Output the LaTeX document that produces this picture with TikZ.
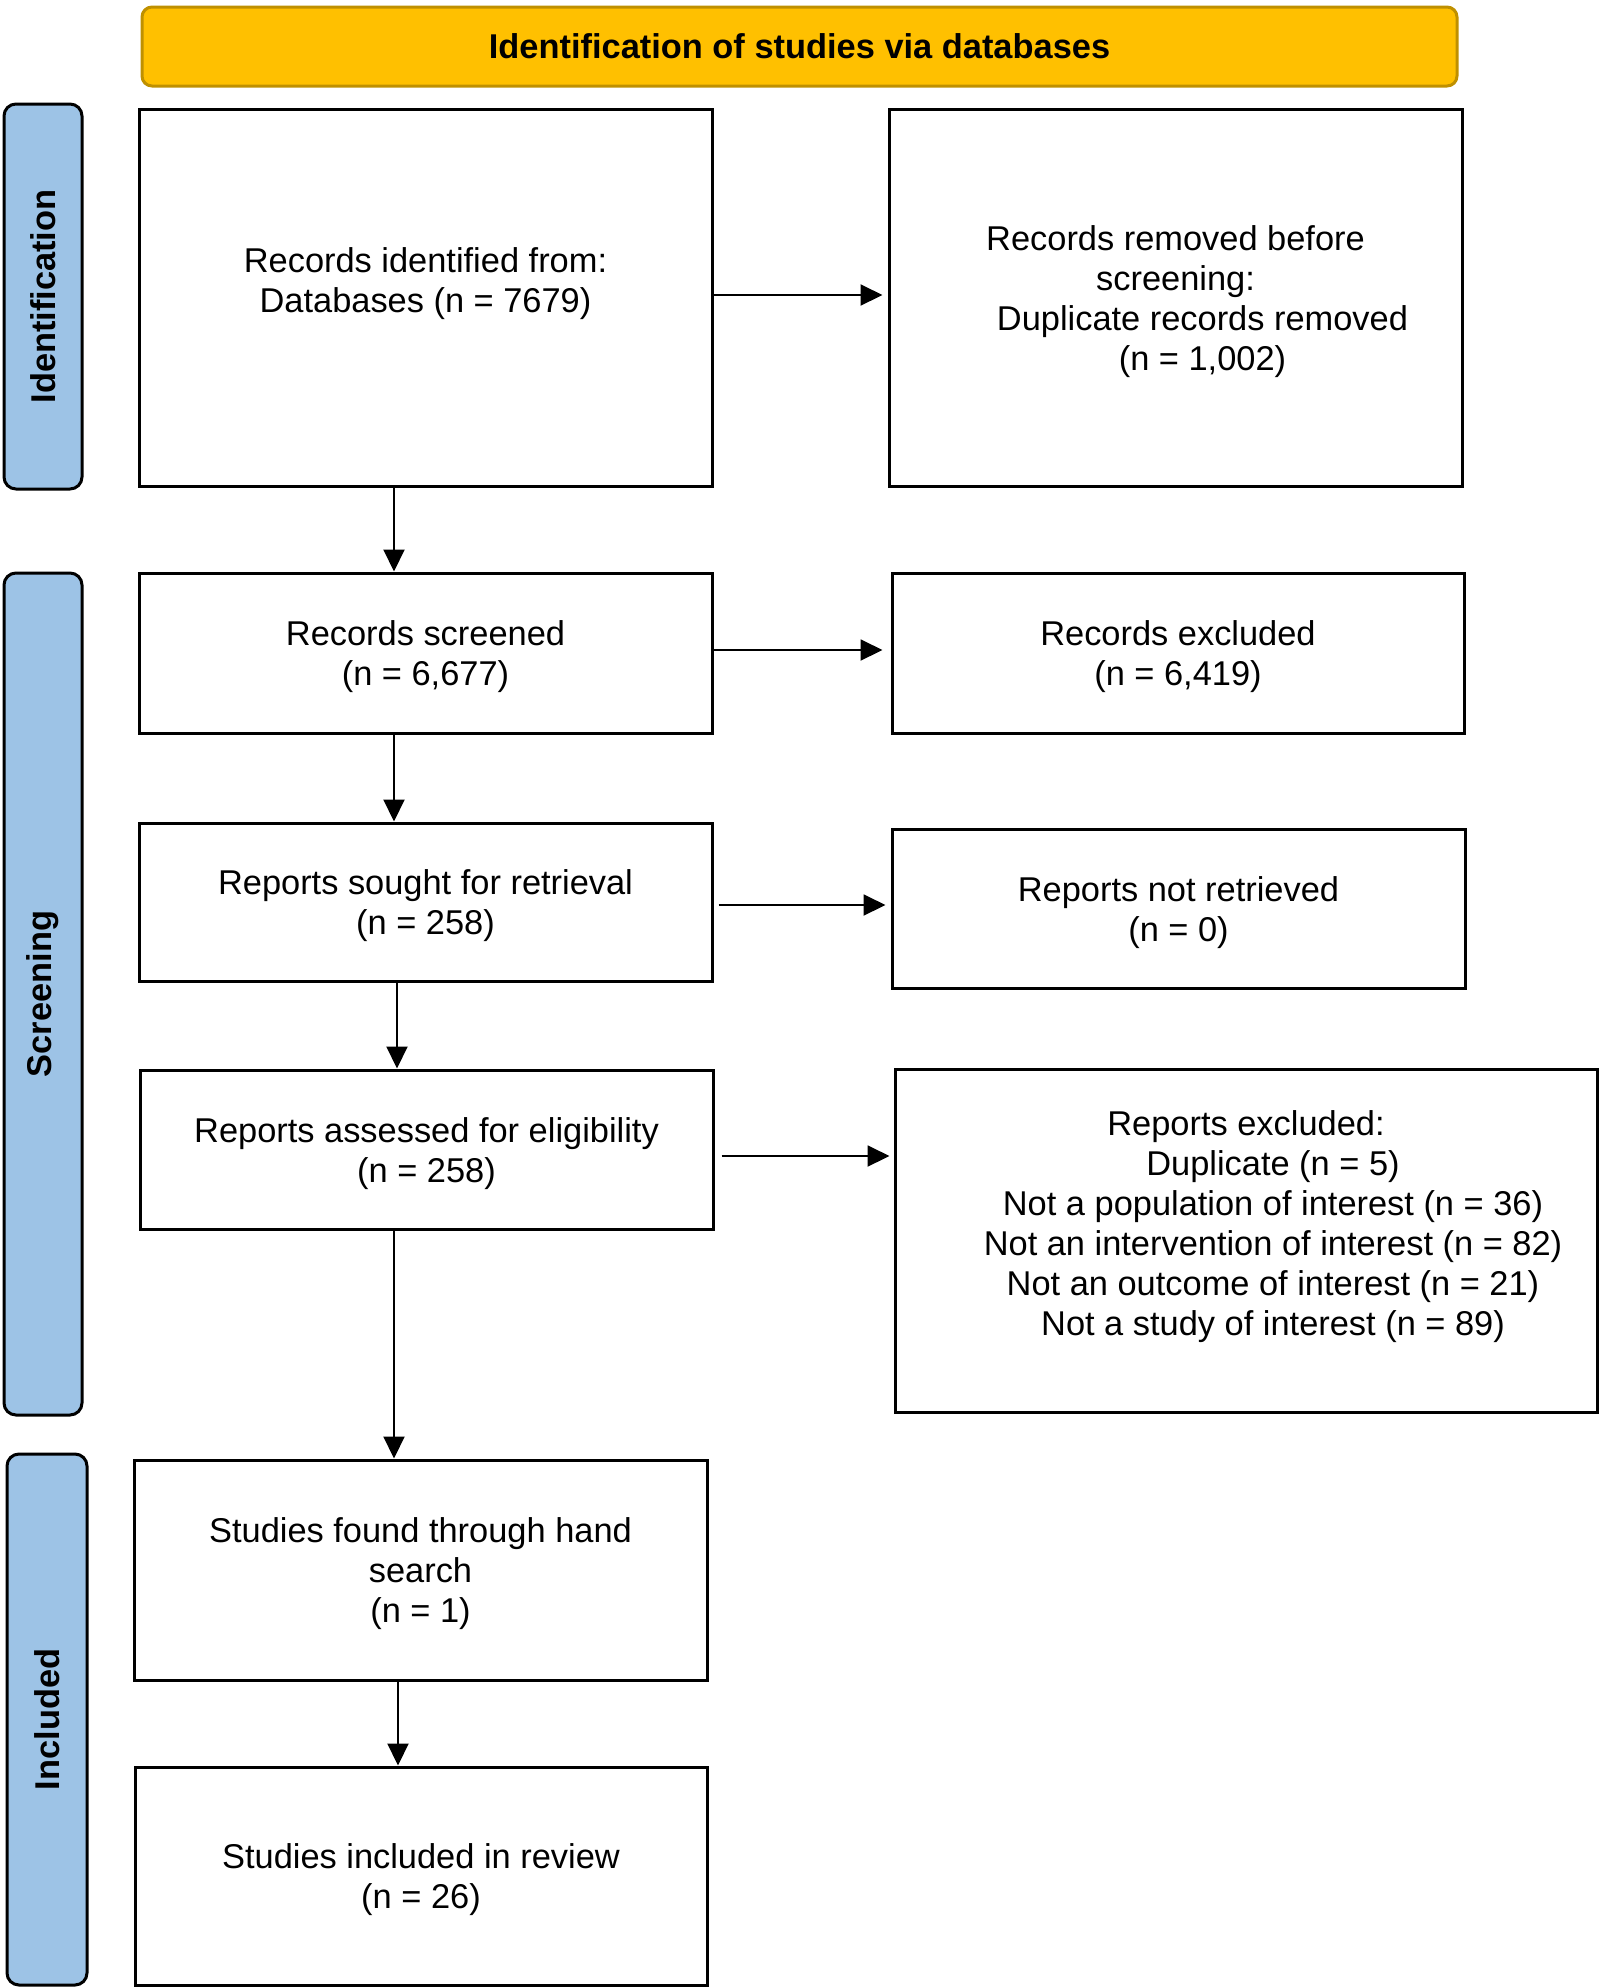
\documentclass[tikz,border=0pt]{standalone}
\usepackage{fontspec}
\setmainfont{Liberation Sans}
\usetikzlibrary{arrows.meta,calc}
\definecolor{gold}{HTML}{FFC000}
\definecolor{golddark}{HTML}{BF9000}
\definecolor{barblue}{HTML}{9DC3E6}
\newcommand\myTopRule{\rule{0pt}{16.5pt}}
\newcommand\mySmallRule{\rule{0pt}{14.5pt}}
\begin{document}
\begin{tikzpicture}[x=0.5pt,y=-0.5pt,
  txt/.style={font=\fontsize{17.2}{20}\selectfont},
  box/.style={draw, line width=1.5pt, align=center, inner sep=0pt, txt},
  banner/.style={draw=golddark, fill=gold, line width=1.5pt, rounded corners=5pt, inner sep=0pt, font=\fontsize{17.2}{20}\selectfont\bfseries},
  side/.style={draw, fill=barblue, line width=1.5pt, rounded corners=6pt, inner sep=0pt, rotate=90, font=\fontsize{17.2}{20}\selectfont\bfseries},
  arr/.style={-{Triangle[length=11pt,width=10.5pt]}, line width=1pt}]
\useasboundingbox (0,0) rectangle (1600,1988);

% banner
\node[banner, minimum width=657.5pt, minimum height=39.5pt] (T) at (799.5,46.5) {Identification of studies via databases};

% side bars
\node[side, minimum width=192.5pt, minimum height=39pt] (S1) at (43,296.5) {Identification};
\node[side, minimum width=421pt, minimum height=39pt] (S2) at (43,994) {Screening};
\node[side, minimum width=265.5pt, minimum height=40pt] (S3) at (47,1719.5) {Included};

% boxes
\node[box, minimum width=286.5pt, minimum height=188.5pt] (A) at (425.5,297.5) {\mySmallRule Records identified from:\\Databases (n = 7679)\\\mbox{}};
\node[box, minimum width=286.5pt, minimum height=188.5pt] (B) at (1175.5,297.5) {\myTopRule Records removed before\\screening:\\\hspace*{27pt}Duplicate records removed\\\hspace*{27pt}(n = 1,002)};
\node[box, minimum width=286.5pt, minimum height=80pt] (C) at (425.5,653) {\myTopRule Records screened\\(n = 6,677)};
\node[box, minimum width=286pt, minimum height=80pt] (D) at (1178,653) {\myTopRule Records excluded\\(n = 6,419)};
\node[box, minimum width=286.5pt, minimum height=79pt] (E) at (425.5,902) {\myTopRule Reports sought for retrieval\\(n = 258)};
\node[box, minimum width=286.5pt, minimum height=79.5pt] (F) at (1178.5,908.5) {\myTopRule Reports not retrieved\\(n = 0)};
\node[box, minimum width=286.5pt, minimum height=79.5pt] (G) at (426.5,1149.5) {\myTopRule Reports assessed for eligibility\\(n = 258)};
\node[box, minimum width=351pt, minimum height=171.5pt] (H) at (1246,1240.5) {\mySmallRule Reports excluded:\\\hspace*{27pt}Duplicate (n = 5)\\\hspace*{27pt}Not a population of interest (n = 36)\\\hspace*{27pt}Not an intervention of interest (n = 82)\\\hspace*{27pt}Not an outcome of interest (n = 21)\\\hspace*{27pt}Not a study of interest (n = 89)\\\mbox{}};
\node[box, minimum width=286.5pt, minimum height=110pt] (I) at (420.5,1570) {\myTopRule Studies found through hand\\search\\(n = 1)};
\node[box, minimum width=286pt, minimum height=109pt] (J) at (421,1876) {\myTopRule Studies included in review\\(n = 26)};

% vertical arrows
\draw[arr] ([xshift=-15.75pt]A.south) -- ([xshift=-15.75pt]A.south |- C.north);
\draw[arr] ([xshift=-15.75pt]C.south) -- ([xshift=-15.75pt]C.south |- E.north);
\draw[arr] ([xshift=-14.25pt]E.south) -- ([xshift=-14.25pt]E.south |- G.north);
\draw[arr] ([xshift=-16.25pt]G.south) -- ([xshift=-16.25pt]G.south |- I.north);
\draw[arr] ([xshift=-11.25pt]I.south) -- ([xshift=-11.25pt]I.south |- J.north);

% horizontal arrows
\draw[arr, shorten >=2.5pt] ([yshift=1.25pt]A.east) -- ([yshift=1.25pt]A.east -| B.west);
\draw[arr, shorten >=4pt] ([yshift=1.5pt]C.east) -- ([yshift=1.5pt]C.east -| D.west);
\draw[arr, shorten <=2.5pt, shorten >=2.5pt] ([yshift=-1.5pt]E.east) -- ([yshift=-1.5pt]E.east -| F.west);
\draw[arr, shorten <=3.5pt, shorten >=2pt] ([yshift=-3.25pt]G.east) -- ([yshift=-3.25pt]G.east -| H.west);
\end{tikzpicture}
\end{document}
